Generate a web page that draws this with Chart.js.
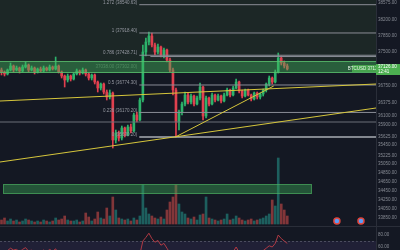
<!DOCTYPE html>
<html>
<head>
<meta charset="utf-8">
<script src="https://cdn.jsdelivr.net/npm/chart.js@4.4.0/dist/chart.umd.min.js"></script>
<style>
  html, body { margin: 0; padding: 0; background: #141823; }
</style>
</head>
<body>
<canvas id="chart" width="400" height="250"></canvas>
<script>
    // Candles (hourly)
    const opens = [
      37104,37060,37016,37104,37192,37104,37148,37082,37170,37214,
      37104,37148,37060,37126,37082,37148,37104,37170,37126,37192,
      37060,36972,36884,36972,36906,37016,37082,37038,37104,37016,
      36928,36994,36840,36708,36796,36620,36510,36598,35564,35718,
      35608,35828,35674,35850,35762,36114,36004,36444,37500,37720,
      37852,37654,37500,37610,37434,37544,37324,37104,36664,35960,
      36180,36356,36554,36400,36532,36356,36488,36730,36092,36488,
      36356,36554,36444,36532,36422,36554,36664,36554,36708,36840,
      36642,36532,36664,36554,36466,36598,36510,36576,36664,36796,
      36928,36840,37060,37368,37258,37192
    ];
    const highs = [
      37148,37082,37126,37258,37214,37192,37170,37214,37280,37236,
      37192,37170,37148,37170,37192,37170,37214,37192,37390,37214,
      37082,36994,37016,36994,37038,37126,37104,37148,37126,37038,
      37016,37016,36862,36818,36818,36664,36664,36620,35784,35762,
      35872,35850,35894,35916,36158,36180,36488,37654,37808,37940,
      37918,37698,37676,37632,37588,37566,37368,37148,36708,36224,
      36400,36620,36598,36576,36554,36532,36818,36752,36532,36510,
      36598,36576,36576,36554,36598,36708,36686,36752,36906,36862,
      36664,36686,36686,36576,36620,36620,36598,36686,36818,36972,
      36950,37104,37478,37412,37302,37236
    ];
    const lows = [
      36994,36972,36994,37082,37060,37082,37038,37060,37148,37060,
      37082,37016,37038,37060,37060,37082,37082,37104,37104,37038,
      36928,36730,36840,36862,36884,36994,36994,37016,36972,36884,
      36884,36796,36620,36664,36576,36444,36466,35388,35498,35542,
      35564,35630,35652,35718,35740,35960,35982,36400,37412,37654,
      37610,37434,37456,37390,37368,37280,37060,36554,35630,35784,
      36114,36312,36356,36356,36312,36334,36444,36004,36048,36312,
      36334,36400,36422,36378,36400,36532,36510,36532,36686,36598,
      36488,36510,36532,36422,36444,36466,36466,36532,36620,36752,
      36796,36818,37038,37214,37148,37104
    ];
    const closes = [
      37060,37016,37104,37192,37104,37148,37082,37170,37214,37104,
      37148,37060,37126,37082,37148,37104,37170,37126,37192,37060,
      36972,36884,36972,36906,37016,37082,37038,37104,37016,36928,
      36994,36840,36708,36796,36620,36510,36598,35564,35718,35608,
      35828,35674,35850,35762,36114,36004,36444,37500,37720,37852,
      37654,37500,37610,37434,37544,37324,37104,36664,35960,36180,
      36356,36554,36400,36532,36356,36488,36730,36092,36488,36356,
      36554,36444,36532,36422,36554,36664,36554,36708,36840,36642,
      36532,36664,36554,36466,36598,36510,36576,36664,36796,36928,
      36840,37060,37368,37258,37192,37126
    ];
    const volumes = [
      20,30,15,25,15,20,10,15,25,20,
      15,10,15,10,20,15,10,15,30,20,
      25,40,20,15,15,20,10,15,55,35,
      15,25,60,30,25,80,40,135,70,30,
      25,20,25,15,30,20,40,195,80,50,
      40,30,25,35,25,70,110,135,195,100,
      60,50,30,25,35,20,45,50,135,30,
      25,20,15,20,25,50,20,25,40,30,
      20,15,20,25,15,20,25,30,40,50,
      120,90,330,100,70,40
    ];
    const rsi = [
      50,52,54,58,55,56,52,56,59,53,
      55,50,54,51,55,52,56,53,57,48,
      42,36,40,38,44,48,46,50,44,40,
      43,38,33,37,32,29,33,22,28,26,
      32,29,34,32,40,38,48,70,76,83,
      74,68,71,63,66,58,50,38,28,36,
      42,48,44,47,42,46,52,38,46,42,
      47,44,46,43,47,50,47,52,60,51,
      48,52,50,46,50,48,50,54,58,62,
      60,66,80,74,70,66
    ];

    // Price axis labels
    const priceTicks = [38575, 38200, 37850, 37500, 36750, 36375, 36100, 35900, 35625,
                        35450, 35225, 35050, 34850, 34650, 34450, 34250, 34050, 33850];
    const rsiTicks = [80, 60];

    // Fibonacci retracement
    const fibRatios = ['1.272', '1', '0.786', '0.5', '0.236', '0'];
    const fibPrices = [38540.63, 37918.40, 37428.71, 36774.30, 36170.20, 35630.20];
    const fibStart = 45.8;

    // Drawings
    const trendA = [[-0.5, 36422], [124.5, 36796]];
    const trendB = [[-0.5, 35080], [124.5, 36268]];
    const trendC = [[57.8, 35630], [90.5, 36752]];
    const supportLine = [[-0.5, 35960], [124.5, 35960]];
    const extraLine = [[49.5, 37400], [124.5, 37400]];
    const zoneTop = 37302, zoneBottom = 37038;
    const lowZone = { from: 0.5, to: 103.2, top: 34596, bottom: 34376 };
    const eventMarks = [111.5, 119.5];
    const eventPrice = 33782;
    const rsiPaneTop = 95, rsiUpper = 70, rsiLower = 30;

    const GREEN = '#2db36b', RED = '#e0404f';
    const FONT = 'Liberation Sans, Arial, sans-serif';

    const up = opens.map((o, i) => closes[i] >= o);
    const toXY = pts => pts.map(p => ({ x: p[0], y: p[1] }));

    function lineSet(pts, color, width) {
      return {
        type: 'line', data: toXY(pts), borderColor: color, borderWidth: width,
        pointRadius: 0, yAxisID: 'y', order: 0
      };
    }

    const datasets = [
      {
        type: 'bar',
        data: opens.map((o, i) => ({ x: i, y: [o, closes[i]] })),
        backgroundColor: up.map(u => u ? GREEN : RED),
        barThickness: 2, grouped: false, minBarLength: 1, yAxisID: 'y', order: 1
      },
      {
        type: 'bar',
        data: lows.map((l, i) => ({ x: i, y: [l, highs[i]] })),
        backgroundColor: up.map(u => u ? GREEN : RED),
        barThickness: 1, grouped: false, yAxisID: 'y', order: 2
      },
      {
        type: 'bar',
        data: volumes.map((v, i) => ({ x: i, y: v })),
        backgroundColor: up.map(u => u ? 'rgba(38,166,154,0.5)' : 'rgba(239,83,80,0.5)'),
        barThickness: 2, grouped: false, yAxisID: 'yVol', order: 3
      },
      {
        type: 'line',
        data: rsi.map((r, i) => ({ x: i, y: r })),
        borderColor: '#b03a44', borderWidth: 1, pointRadius: 0, yAxisID: 'yRsi', order: 0
      },
      lineSet(trendA, '#d6c63c', 1),
      lineSet(trendB, '#d6c63c', 1),
      lineSet(trendC, '#d6c63c', 1),
      lineSet(supportLine, '#6b6e78', 1),
      lineSet(extraLine, '#8a8d96', 1),
      {
        type: 'scatter',
        data: eventMarks.map(x => ({ x: x, y: eventPrice })),
        pointStyle: 'circle', pointRadius: 3, backgroundColor: '#5b9cf6',
        borderColor: '#e0463c', borderWidth: 1.5, yAxisID: 'y', order: 0
      }
    ];

    fibPrices.forEach((p, i) => {
      datasets.push(lineSet([[fibStart, p], [124.5, p]], i === 5 ? '#a9acb5' : '#8a8d96', i === 5 ? 1.5 : 1));
    });

    const panes = {
      id: 'panes',
      beforeDatasetsDraw(chart) {
        const { ctx, chartArea: a, scales } = chart;
        const y = scales.y, r = scales.yRsi;
        ctx.save();
        // shaded area above the supply zone
        ctx.fillStyle = '#1c2726';
        ctx.fillRect(a.left, a.top, a.width, y.getPixelForValue(zoneTop) - a.top);
        // RSI pane
        const sep = r.getPixelForValue(rsiPaneTop);
        const bandTop = r.getPixelForValue(rsiUpper);
        ctx.fillStyle = 'rgba(126,87,194,0.12)';
        ctx.fillRect(a.left, bandTop, a.width, r.getPixelForValue(rsiLower) - bandTop);
        ctx.strokeStyle = '#2a2e39';
        ctx.lineWidth = 1;
        ctx.beginPath();
        ctx.moveTo(a.left, sep + 0.5);
        ctx.lineTo(400, sep + 0.5);
        ctx.stroke();
        ctx.setLineDash([2, 2]);
        ctx.strokeStyle = 'rgba(120,123,134,0.5)';
        ctx.beginPath();
        ctx.moveTo(a.left, bandTop + 0.5);
        ctx.lineTo(a.right, bandTop + 0.5);
        ctx.stroke();
        ctx.restore();
      },
      afterDatasetsDraw(chart) {
        const { ctx, chartArea: a, scales } = chart;
        const x = scales.x, y = scales.y;
        ctx.save();
        // supply zone
        const t = y.getPixelForValue(zoneTop), b = y.getPixelForValue(zoneBottom);
        ctx.fillStyle = 'rgba(67,180,90,0.45)';
        ctx.fillRect(a.left, t, a.width, b - t);
        ctx.strokeStyle = 'rgba(90,190,110,0.8)';
        ctx.lineWidth = 1;
        ctx.beginPath();
        ctx.moveTo(a.left, t + 0.5); ctx.lineTo(a.right, t + 0.5);
        ctx.moveTo(a.left, b - 0.5); ctx.lineTo(a.right, b - 0.5);
        ctx.stroke();
        ctx.font = '4.5px ' + FONT;
        ctx.fillStyle = 'rgba(150,220,160,0.35)';
        ctx.textAlign = 'right';
        ctx.textBaseline = 'middle';
        ctx.fillText(zoneBottom.toFixed(2) + ' (' + zoneTop.toFixed(2) + ')', x.getPixelForValue(fibStart) - 2, (t + b) / 2);

        // demand zone
        const lx = x.getPixelForValue(lowZone.from), rx = x.getPixelForValue(lowZone.to);
        const lt = y.getPixelForValue(lowZone.top), lb = y.getPixelForValue(lowZone.bottom);
        ctx.fillStyle = 'rgba(60,170,85,0.42)';
        ctx.fillRect(lx, lt, rx - lx, lb - lt);
        ctx.strokeStyle = 'rgba(80,180,100,0.6)';
        ctx.strokeRect(lx + 0.5, lt + 0.5, rx - lx - 1, lb - lt - 1);

        // fib labels
        ctx.fillStyle = '#9598a1';
        fibPrices.forEach((p, i) => {
          ctx.fillText(fibRatios[i] + ' (' + p.toFixed(2) + ')', x.getPixelForValue(fibStart) - 2, y.getPixelForValue(p) - 2);
        });
        ctx.restore();
      },
      afterDraw(chart) {
        const { ctx, chartArea: a, scales } = chart;
        const y = scales.y, r = scales.yRsi;
        const last = closes[closes.length - 1];
        const py = y.getPixelForValue(last);
        ctx.save();
        ctx.font = '4.5px ' + FONT;
        ctx.textBaseline = 'middle';
        // label inside the plot
        ctx.fillStyle = 'rgba(76,175,80,0.85)';
        ctx.fillRect(a.right - 24, py - 4, 24, 7);
        ctx.fillStyle = '#e8f5e9';
        ctx.textAlign = 'center';
        ctx.fillText('BTCUSD ' + last.toFixed(0), a.right - 12, py - 0.5);
        // axis price tag
        ctx.fillStyle = '#4caf50';
        ctx.fillRect(a.right, py - 5, 24, 11);
        ctx.fillStyle = '#ffffff';
        ctx.textAlign = 'left';
        ctx.fillText(last.toFixed(2), a.right + 2, py - 2);
        ctx.fillText('12:41', a.right + 2, py + 3);
        // RSI axis labels
        ctx.fillStyle = '#878b94';
        rsiTicks.forEach(v => ctx.fillText(v.toFixed(2), a.right + 2, r.getPixelForValue(v)));
        ctx.restore();
      }
    };

    new Chart(document.getElementById('chart'), {
      data: { datasets: datasets },
      plugins: [panes],
      options: {
        responsive: false,
        animation: false,
        devicePixelRatio: 1,
        layout: { padding: 0, autoPadding: false },
        plugins: { legend: { display: false }, tooltip: { enabled: false } },
        scales: {
          x: { type: 'linear', min: -0.5, max: 124.5, offset: false, display: false },
          y: {
            position: 'right', min: 33144, max: 38644,
            grid: { display: false, drawTicks: false },
            border: { display: true, color: '#2a2e39' },
            ticks: {
              color: '#878b94', padding: 2,
              font: { size: 4.5, family: FONT },
              callback: v => v.toFixed(2)
            },
            afterBuildTicks: s => { s.ticks = priceTicks.map(v => ({ value: v })); },
            afterFit: s => { s.width = 24; s.paddingTop = 0; s.paddingBottom = 0; }
          },
          yVol: { display: false, min: -130, max: 1120 },
          yRsi: { display: false, min: 55, max: 471.67 }
        }
      }
    });
</script>
</body>
</html>
